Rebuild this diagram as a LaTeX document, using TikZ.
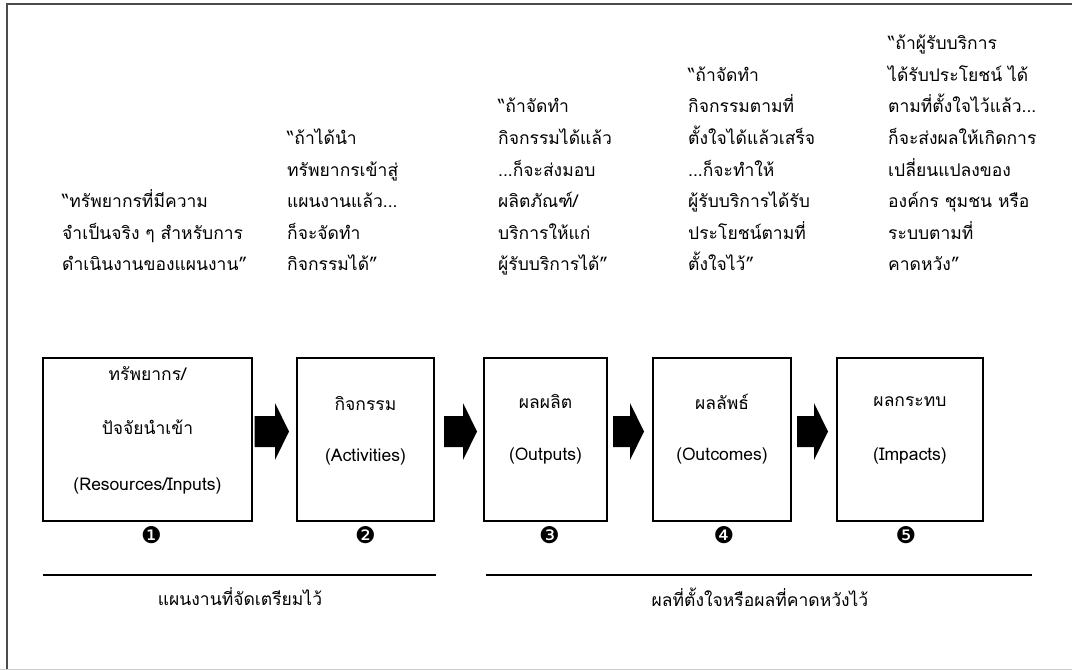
\documentclass[tikz,border=0pt]{standalone}
\usepackage{fontspec}
\setmainfont{Loma}[Script=Thai]
\newfontfamily\thai[Script=Thai]{Loma}
\newfontfamily\dv{DejaVu Sans}
\usetikzlibrary{calc}
\newcommand\fatarrow[4]{%
  \path ($(#1.east)+(#2,-8)$) coordinate (s) ($(#3.west)+(#4,-8)$) coordinate (t);
  \fill (s)++(0,-15.5) -- ($(t)+(-14,-15.5)$) -- ($(t)+(-14,-28.5)$) -- (t)
        -- ($(t)+(-14,28.5)$) -- ($(t)+(-14,15.5)$) -- ($(s)+(0,15.5)$) -- cycle;}
\newcommand\topstrut{\rule{0pt}{20pt}}
\begin{document}
\begin{tikzpicture}[x=1pt,y=-1pt,
  stagebox/.style={draw, line width=2pt, minimum height=163pt, inner sep=0},
  txt/.style={font=\thai\fontsize{17.5}{31.6}\selectfont, inner sep=0},
  quote/.style={txt, align=left, anchor=north west},
  num/.style={font=\dv\fontsize{23}{23}\selectfont, inner sep=0},
  rule/.style={line width=2.5pt}]
\useasboundingbox (0,0) rectangle (1072,670);
\draw[line width=1.5pt, black!70] (7,670) -- (7,4) -- (1072,4);
\draw[line width=1.5pt, black!20] (0,669.5) -- (1072,669.5);

% quote blocks
\node[quote] (q1) at (62,187.5) {\topstrut“ทรัพยากรที่มีความ\\จำเป็นจริง ๆ สำหรับการ\\ดำเนินงานของแผนงาน”};
\node[quote] (q2) at (287,124.3) {\topstrut“ถ้าได้นำ\\ทรัพยากรเข้าสู่\\แผนงานแล้ว...\\ก็จะจัดทำ\\กิจกรรมได้”};
\node[quote] (q3) at (498,92.7) {\topstrut“ถ้าจัดทำ\\กิจกรรมได้แล้ว\\...ก็จะส่งมอบ\\ผลิตภัณฑ์/\\บริการให้แก่\\ผู้รับบริการได้”};
\node[quote] (q4) at (688,61.1) {\topstrut“ถ้าจัดทำ\\กิจกรรมตามที่\\ตั้งใจได้แล้วเสร็จ\\...ก็จะทำให้\\ผู้รับบริการได้รับ\\ประโยชน์ตามที่\\ตั้งใจไว้”};
\node[quote] (q5) at (888,29.5) {\topstrut“ถ้าผู้รับบริการ\\ได้รับประโยชน์ ได้\\ตามที่ตั้งใจไว้แล้ว...\\ก็จะส่งผลให้เกิดการ\\เปลี่ยนแปลงของ\\องค์กร ชุมชน หรือ\\ระบบตามที่\\คาดหวัง”};

% boxes
\node[stagebox, minimum width=209pt] (b1) at (147.5,439.5) {};
\node[stagebox, minimum width=137pt] (b2) at (365.5,439.5) {};
\node[stagebox, minimum width=123pt] (b3) at (545.5,439.5) {};
\node[stagebox, minimum width=138pt] (b4) at (722,439.5) {};
\node[stagebox, minimum width=146pt] (b5) at (910,439.5) {};

\node[txt] (b1a) at ($(b1.north)+(0,17)$) {ทรัพยากร/};
\node[txt] (b1b) at ($(b1.north)+(0,70)$) {ปัจจัยนำเข้า};
\node[txt] (b1c) at ($(b1.north)+(0,129)$) {(Resources/Inputs)};
\node[txt] (b2a) at ($(b2.north)+(0,47)$) {กิจกรรม};
\node[txt] (b2b) at ($(b2.north)+(0,100)$) {(Activities)};
\node[txt] (b3a) at ($(b3.north)+(0,45)$) {ผลผลิต};
\node[txt] (b3b) at ($(b3.north)+(0,99)$) {(Outputs)};
\node[txt] (b4a) at ($(b4.north)+(0,45)$) {ผลลัพธ์};
\node[txt] (b4b) at ($(b4.north)+(0,99)$) {(Outcomes)};
\node[txt] (b5a) at ($(b5.north)+(0,45)$) {ผลกระทบ};
\node[txt] (b5b) at ($(b5.north)+(0,99)$) {(Impacts)};

% arrows
\fatarrow{b1}{1.5}{b2}{-7}
\fatarrow{b2}{9}{b3}{-6}
\fatarrow{b3}{5}{b4}{-8}
\fatarrow{b4}{5}{b5}{-8}

% numbers
\node[num] (n1) at ($(b1.south)+(4,13)$) {❶};
\node[num] (n2) at ($(b2.south)+(0,13)$) {❷};
\node[num] (n3) at ($(b3.south)+(4,13)$) {❸};
\node[num] (n4) at ($(b4.south)+(2,13)$) {❹};
\node[num] (n5) at ($(b5.south)+(-4,13)$) {❺};

% bottom spans
\draw[rule] (43,575) -- (436,575);
\draw[rule] (486,575) -- (1032,575);
\node[txt] (l1) at (240,597) {แผนงานที่จัดเตรียมไว้};
\node[txt] (l2) at (760,597) {ผลที่ตั้งใจหรือผลที่คาดหวังไว้};
\end{tikzpicture}
\end{document}
